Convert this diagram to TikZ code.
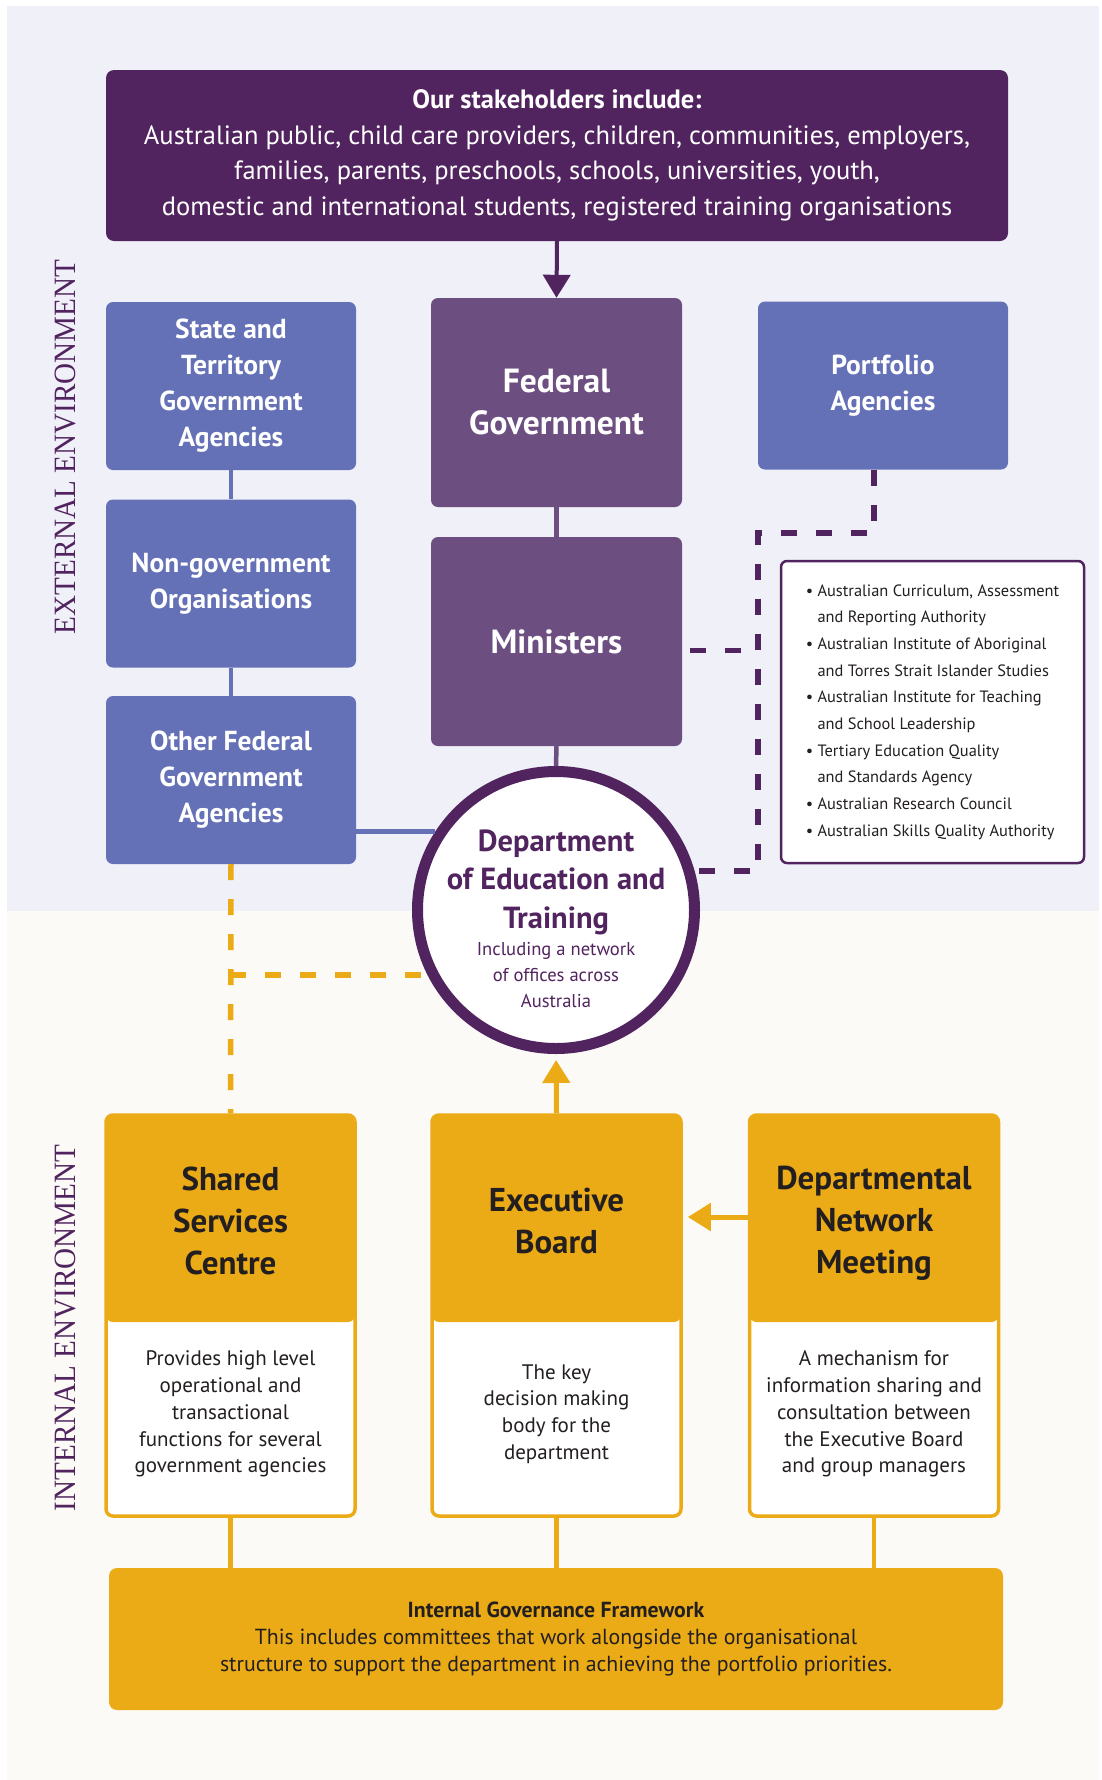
\documentclass[tikz,border=0pt]{standalone}
\usepackage{fontspec}
\setmainfont{PT Sans}
\newfontfamily\envfont{Liberation Serif}[FakeStretch=0.94]
\usetikzlibrary{arrows.meta}
\usetikzlibrary{calc}

\definecolor{stakepurple}{HTML}{52245F}
\definecolor{govpurple}{HTML}{6D4E80}
\definecolor{agencyblue}{HTML}{6571B6}
\definecolor{boardgold}{HTML}{EBAB16}
\definecolor{extbg}{HTML}{EFF0F8}
\definecolor{intbg}{HTML}{FBFAF6}
\definecolor{textdark}{HTML}{231F20}

\tikzset{
    stakebox/.style={fill=stakepurple, rounded corners=8pt, text=white, align=center,
        minimum width=902pt, minimum height=171pt, font=\fontsize{26.5}{35.5}\selectfont},
    agency/.style={fill=agencyblue, rounded corners=7pt, text=white, align=center,
        minimum width=250pt, minimum height=168pt, font=\bfseries\fontsize{27.5}{36}\selectfont},
    federal/.style={fill=govpurple, rounded corners=7pt, text=white, align=center,
        minimum width=251pt, minimum height=209pt, font=\bfseries\fontsize{33.5}{42}\selectfont},
    listbox/.style={draw=stakepurple, line width=2.5pt, fill=white, rounded corners=6pt,
        minimum width=303pt, minimum height=302pt, align=left, text=textdark,
        font=\fontsize{16.4}{26.7}\selectfont},
    dept/.style={circle, draw=stakepurple, line width=11pt, fill=white, minimum size=277pt,
        inner sep=0pt, text=stakepurple, align=center},
    boardbox/.style={draw=boardgold, line width=3.5pt, fill=white, rounded corners=7pt,
        minimum width=249pt, minimum height=401pt,
        path picture={\fill[boardgold] (path picture bounding box.north west)
            rectangle ([yshift=-207pt]path picture bounding box.north east);}},
    boardtitle/.style={text=textdark, align=center, font=\bfseries\fontsize{33}{42}\selectfont},
    boarddesc/.style={text=textdark, align=center, font=\fontsize{21}{26.8}\selectfont},
    igfbox/.style={fill=boardgold, rounded corners=8pt, text=textdark, align=center,
        minimum width=894pt, minimum height=142pt, font=\fontsize{21.8}{26.7}\selectfont},
    envlabel/.style={rotate=90, text=stakepurple, font=\envfont\fontsize{31}{31}\selectfont},
    stakearrow/.style={draw=stakepurple, line width=4pt, -{Triangle[length=23pt, width=27pt]}},
    govline/.style={draw=govpurple, line width=4.5pt},
    agencyline/.style={draw=agencyblue, line width=4.5pt},
    purpledash/.style={draw=stakepurple, line width=5.5pt, dash pattern=on 16pt off 19pt},
    golddash/.style={draw=boardgold, line width=5.5pt, dash pattern=on 16pt off 19pt},
    goldline/.style={draw=boardgold, line width=4.5pt},
    goldarrow/.style={draw=boardgold, line width=5pt, -{Triangle[length=23pt, width=27pt]}},
}

\begin{document}
\begin{tikzpicture}[x=1pt, y=-1pt]
    \useasboundingbox (0,0) rectangle (1101,1780);
    \fill[extbg] (7,6) rectangle (1099,911);
    \fill[intbg] (7,911) rectangle (1099,1780);

    \node[envlabel] (extlabel) at (65,447) {EXTERNAL ENVIRONMENT};
    \node[envlabel] (intlabel) at (65,1328) {INTERNAL ENVIRONMENT};

    \node[stakebox] (stake) at (557,155.5) {\textbf{Our stakeholders include:}\\
        Australian public, child care providers, children, communities, employers,\\
        families, parents, preschools, schools, universities, youth,\\
        domestic and international students, registered training organisations};

    \node[agency] (state) at (231,386) {State and\\Territory\\Government\\Agencies};
    \node[agency] (nongov) at (231,583.5) {Non-government\\Organisations};
    \node[agency] (otherfed) at (231,780) {Other Federal\\Government\\Agencies};
    \node[federal] (fedgov) at (556.5,402.5) {Federal\\Government};
    \node[federal] (ministers) at (556.5,641.5) {Ministers};
    \node[agency] (portfolio) at (883,385.5) {Portfolio\\Agencies};

    \node[listbox] (portlist) at (932.5,712) {\textbullet\ Australian Curriculum, Assessment\\
        \phantom{\textbullet}\ and Reporting Authority\\
        \textbullet\ Australian Institute of Aboriginal\\
        \phantom{\textbullet}\ and Torres Strait Islander Studies\\
        \textbullet\ Australian Institute for Teaching\\
        \phantom{\textbullet}\ and School Leadership\\
        \textbullet\ Tertiary Education Quality\\
        \phantom{\textbullet}\ and Standards Agency\\
        \textbullet\ Australian Research Council\\
        \textbullet\ Australian Skills Quality Authority};

    \node[dept] (dept) at (556,910) {};
    \node[text=stakepurple, align=center, font=\bfseries\fontsize{30.5}{38.5}\selectfont]
        (depttitle) at (556,882) {Department\\of Education and\\Training};
    \node[text=stakepurple, align=center, font=\fontsize{18.6}{26}\selectfont]
        (deptsub) at (556,975) {Including a network\\of offices across\\Australia};

    \node[boardbox] (ssc) at (230.5,1315.5) {};
    \node[boardbox] (exec) at (556.5,1315.5) {};
    \node[boardbox] (dnm) at (874,1315.5) {};
    \node[boardtitle] (ssctitle) at (230.5,1221) {Shared\\Services\\Centre};
    \node[boardtitle] (exectitle) at (556.5,1221) {Executive\\Board};
    \node[boardtitle] (dnmtitle) at (874,1223) {Departmental\\Network\\Meeting};
    \node[boarddesc] (sscdesc) at (230.5,1414) {Provides high level\\operational and\\transactional\\functions for several\\government agencies};
    \node[boarddesc] (execdesc) at (556.5,1414) {The key\\decision making\\body for the\\department};
    \node[boarddesc] (dnmdesc) at (874,1414) {A mechanism for\\information sharing and\\consultation between\\the Executive Board\\and group managers};

    \node[igfbox] (igf) at (556,1639) {\textbf{Internal Governance Framework}\\
        This includes committees that work alongside the organisational\\
        structure to support the department in achieving the portfolio priorities.};

    % external links
    \draw[stakearrow] (stake.south) -- (fedgov.north);
    \draw[agencyline] (state.south) -- (nongov.north);
    \draw[agencyline] (nongov.south) -- (otherfed.north);
    \draw[govline] (fedgov.south) -- (ministers.north);
    \draw[govline] (ministers.south) -- (dept.north);
    \coordinate (blueend) at (dept.147);
    \draw[agencyline] (otherfed.east |- blueend) -- (blueend);

    \coordinate (ptrunk) at (758,533);
    \coordinate (pfoot) at (758,871);
    \draw[purpledash] ([xshift=-9pt]portfolio.south) |- (ptrunk) -- (pfoot) -- (pfoot -| dept.16);
    \draw[purpledash] ([xshift=8pt, yshift=-9pt]ministers.east) -- ([yshift=-9pt]ministers.east -| ptrunk);

    % internal links
    \coordinate (gtap) at (230,975);
    \draw[golddash] (otherfed.south) -- (ssc.north);
    \draw[golddash] (gtap) -- (gtap -| dept.207);
    \draw[goldarrow, shorten >=6pt] (exec.north) -- (dept.south);
    \coordinate (dnmtap) at (749,1217);
    \draw[goldarrow, shorten >=5pt] (dnmtap) -- (dnmtap -| exec.east);
    \draw[goldline] (ssc.south) -- (ssc.south |- igf.north);
    \draw[goldline] (exec.south) -- (exec.south |- igf.north);
    \draw[goldline] (dnm.south) -- (dnm.south |- igf.north);
\end{tikzpicture}
\end{document}
